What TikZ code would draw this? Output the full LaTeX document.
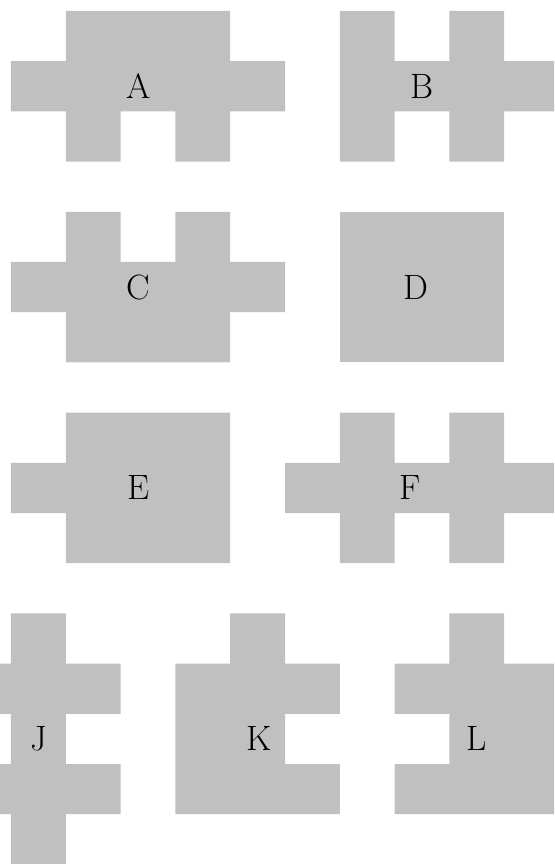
\documentclass[tikz,border=0pt]{standalone}
\definecolor{cellgray}{RGB}{192,192,192}
\tikzset{
  cellfill/.style={fill=cellgray, draw=none},
  lbl/.style={anchor=base, inner sep=0pt, font=\fontsize{17.6}{20}\selectfont, text=black}
}
\begin{document}
\begin{tikzpicture}[x=27.4pt, y=-25.1pt]
\useasboundingbox (-0.2007,-0.2191) rectangle (9.9088,16.992);
\clip (-0.2007,-0.2191) rectangle (9.9088,16.992);
% A
\fill[cellfill] \foreach \c/\r in {1/0,2/0,3/0,0/1,1/1,2/1,3/1,4/1,1/2,3/2} {(\c,\r) rectangle ++(1,1)};
% B
\fill[cellfill] \foreach \c/\r in {6/0,8/0,6/1,7/1,8/1,9/1,6/2,8/2} {(\c,\r) rectangle ++(1,1)};
% C
\fill[cellfill] \foreach \c/\r in {1/4,3/4,0/5,1/5,2/5,3/5,4/5,1/6,2/6,3/6} {(\c,\r) rectangle ++(1,1)};
% D
\fill[cellfill] (6,4) rectangle (9,7);
% E
\fill[cellfill] \foreach \c/\r in {1/8,2/8,3/8,0/9,1/9,2/9,3/9,1/10,2/10,3/10} {(\c,\r) rectangle ++(1,1)};
% F
\fill[cellfill] \foreach \c/\r in {6/8,8/8,5/9,6/9,7/9,8/9,9/9,6/10,8/10} {(\c,\r) rectangle ++(1,1)};
% J
\fill[cellfill] \foreach \c/\r in {0/12,-1/13,0/13,1/13,0/14,-1/15,0/15,1/15,0/16} {(\c,\r) rectangle ++(1,1)};
% K
\fill[cellfill] \foreach \c/\r in {4/12,3/13,4/13,5/13,3/14,4/14,3/15,4/15,5/15} {(\c,\r) rectangle ++(1,1)};
% L
\fill[cellfill] \foreach \c/\r in {8/12,7/13,8/13,9/13,8/14,9/14,7/15,8/15,9/15} {(\c,\r) rectangle ++(1,1)};
% labels
\node[lbl] (lA) at (2.33,1.739) {A};
\node[lbl] (lB) at (7.5,1.739) {B};
\node[lbl] (lC) at (2.33,5.739) {C};
\node[lbl] (lD) at (7.39,5.739) {D};
\node[lbl] (lE) at (2.33,9.739) {E};
\node[lbl] (lF) at (7.28,9.739) {F};
\node[lbl] (lJ) at (0.5,14.739) {J};
\node[lbl] (lK) at (4.52,14.739) {K};
\node[lbl] (lL) at (8.5,14.739) {L};
\end{tikzpicture}
\end{document}
